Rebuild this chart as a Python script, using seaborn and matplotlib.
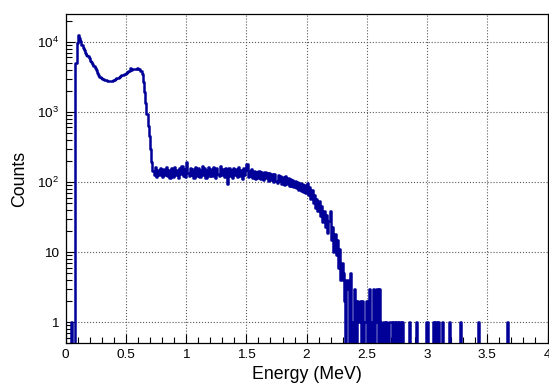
import numpy as np
import pandas as pd
import seaborn as sns
from matplotlib import pyplot as plt
from matplotlib.ticker import FixedLocator, FixedFormatter, MultipleLocator, LogLocator, NullFormatter, FuncFormatter

bin_width = 0.01  # MeV per bin
energy_max = 4.0

# counts per 10 keV bin
# 0.00 - 0.72 MeV : threshold, backscatter peak, Compton edge of the low line
counts_peaks = [0, 0, 0, 0, 1, 0, 0, 0,
                5000, 9500, 12400, 11500, 10200, 9100, 8300, 7600, 7000, 6600,
                6200, 5800, 5400, 5100, 4850, 4600, 4300, 3950, 3650, 3400,
                3200, 3100, 3000, 2950, 2900, 2850, 2800, 2780, 2750, 2780,
                2800, 2850, 2900, 2960, 3020, 3100, 3200, 3250, 3320, 3400,
                3450, 3500, 3600, 3700, 3800, 4300, 3950, 4050, 4100, 4150,
                4100, 4200, 4150, 4050, 3850, 3500, 2700, 1900, 1350, 950,
                620, 450, 300, 190, 145]

# 0.73 - 1.99 MeV : flat continuum
counts_plateau = [128, 162, 118, 150, 124, 158, 131,
                  117, 155, 126, 166, 121, 147, 113, 160, 129, 119,
                  163, 124, 148, 115, 157, 130, 170, 121, 152, 118,
                  195, 133, 120, 161, 125, 154, 114, 165, 131, 122,
                  158, 119, 150, 172, 124, 160, 116, 147, 163, 121,
                  155, 120, 164, 127, 113, 158, 131, 122, 168, 125,
                  151, 117, 160, 124, 95, 156, 121, 149, 114, 158,
                  126, 154, 118, 162, 122, 148, 112, 157, 124, 150,
                  182, 117, 146, 121, 152, 114, 143, 110, 140, 116,
                  145, 111, 138, 115, 106, 141, 113, 136, 104, 133,
                  108, 132, 101, 129, 105, 96, 127, 102, 123, 95,
                  118, 91, 121, 93, 114, 87, 111, 89, 108, 84,
                  104, 81, 100, 78, 97, 74, 94, 72, 90, 70]

# 2.00 - 2.69 MeV : end point fall-off
counts_edge = [98, 66, 84, 58, 76, 50, 66, 43, 58, 39,
               53, 33, 46, 27, 39, 23, 34, 19, 28, 38,
               15, 23, 10, 18, 9, 15, 6, 11, 4, 7,
               5, 2, 0, 4, 3, 0, 5, 1, 0, 3,
               2, 0, 2, 1, 2, 0, 2, 0, 1, 2,
               0, 2, 3, 0, 1, 3, 0, 1, 3, 0,
               3, 1, 0, 1, 1, 0, 1, 0, 1, 1]

# single counts above 2.7 MeV (energy in MeV)
tail_hits = [2.705, 2.725, 2.745, 2.755, 2.775, 2.795, 2.855, 2.915, 2.995,
             3.005, 3.055, 3.075, 3.095, 3.125, 3.185, 3.275, 3.425, 3.665]

ytick_vals = [1, 10, 100, 1000, 10000]
ytick_labels = ['1', '10', '$10^{2}$', '$10^{3}$', '$10^{4}$']

edges = np.round(np.arange(0, energy_max + bin_width / 2, bin_width), 3)
counts = np.zeros(len(edges) - 1)
measured = np.array(counts_peaks + counts_plateau + counts_edge, dtype=float)
counts[:len(measured)] = measured
counts += np.histogram(tail_hits, bins=edges)[0]

df = pd.DataFrame({'Energy': edges[:-1] + bin_width / 2, 'Counts': counts})

plt.rcParams['font.family'] = ['Liberation Sans', 'DejaVu Sans']
plt.rcParams['mathtext.default'] = 'regular'

fig = plt.figure(figsize=(5.49, 3.83), dpi=100)
ax = fig.add_axes([0.1197, 0.1037, 0.8776, 0.8598])
ax.set_yscale('log')

sns.histplot(data=df, x='Energy', weights='Counts', binwidth=bin_width,
             binrange=(0, energy_max), element='step', fill=False,
             color='#000099', linewidth=1.8, ax=ax)

ax.set_xlim(0, energy_max)
ax.set_ylim(0.5, 25000)

ax.xaxis.set_major_locator(MultipleLocator(0.5))
ax.xaxis.set_minor_locator(MultipleLocator(0.1))
ax.xaxis.set_major_formatter(FuncFormatter(lambda v, p: f'{v:g}'))
ax.yaxis.set_major_locator(FixedLocator(ytick_vals))
ax.yaxis.set_major_formatter(FixedFormatter(ytick_labels))
ax.yaxis.set_minor_locator(LogLocator(base=10, subs=range(2, 10), numticks=20))
ax.yaxis.set_minor_formatter(NullFormatter())

ax.tick_params(which='both', direction='in', top=False, right=False, width=0.8, labelsize=9.7)
ax.tick_params(which='major', length=6.5)
ax.tick_params(which='minor', length=4)
ax.tick_params(axis='x', pad=4)
ax.tick_params(axis='y', pad=5)

ax.grid(True, which='major', linestyle=':', color='0.35', linewidth=0.8)
for s in ax.spines.values():
    s.set_color('black')
    s.set_linewidth(0.9)

ax.set_xlabel('Energy (MeV)', fontsize=12.8, labelpad=4)
ax.set_ylabel('Counts', fontsize=12.8, labelpad=6)

fig.savefig('out.png', dpi=100)
